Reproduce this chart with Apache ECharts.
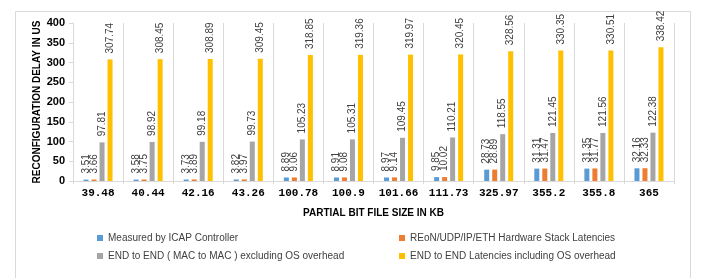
<!DOCTYPE html>
<html>
<head>
<meta charset="utf-8">
<script src="https://cdn.jsdelivr.net/npm/echarts@6/dist/echarts.min.js"></script>
<style>
  html, body { margin: 0; padding: 0; background: #fff; }
  #chart { width: 701px; height: 278px; }
</style>
</head>
<body>
<div id="chart"></div>
<script>
// partial bit file sizes (KB)
var categories = ['39.48', '40.44', '42.16', '43.26', '100.78', '100.9', '101.66', '111.73', '325.97', '355.2', '355.8', '365'];
var yTicks = [0, 50, 100, 150, 200, 250, 300, 350, 400];

var icapData = [3.51, 3.58, 3.73, 3.82, 8.89, 8.91, 8.97, 9.85, 28.73, 31.31, 31.35, 32.16];
var hwStackData = [3.66, 3.75, 3.89, 3.97, 9.06, 9.08, 9.14, 10.02, 28.89, 31.47, 31.77, 32.33];
var macToMacData = [97.81, 98.92, 99.18, 99.73, 105.23, 105.31, 109.45, 110.21, 118.55, 121.45, 121.56, 122.38];
var withOsData = [307.74, 308.45, 308.89, 309.45, 318.85, 319.36, 319.97, 320.45, 328.56, 330.35, 330.51, 338.42];

var names = [
    'Measured by ICAP Controller',
    'REoN/UDP/IP/ETH Hardware Stack Latencies',
    'END to END ( MAC to MAC ) excluding OS overhead',
    'END to END Latencies including OS overhead'
];
var colors = ['#5B9BD5', '#ED7D31', '#A5A5A5', '#FFC000'];
var allData = [icapData, hwStackData, macToMacData, withOsData];

var myChart = echarts.init(document.getElementById('chart'));

var series = allData.map(function (d, i) {
    return {
        name: names[i],
        type: 'bar',
        barWidth: 5,
        barGap: '60%',
        itemStyle: { color: colors[i] },
        label: {
            show: true,
            position: 'top',
            rotate: 90,
            align: 'left',
            verticalAlign: 'middle',
            distance: 6,
            fontSize: 10,
            color: '#404040',
            fontFamily: 'Liberation Sans, Arial, sans-serif',
            formatter: function (p) { return p.value.toFixed(2); }
        },
        data: d
    };
});

var legendText = { fontSize: 10, color: '#404040', fontFamily: 'Liberation Sans, Arial, sans-serif' };

var option = {
    animation: false,
    backgroundColor: '#fff',
    graphic: [{
        type: 'rect',
        left: 13,
        top: 9,
        shape: { width: 675, height: 300 },
        style: { fill: 'none', stroke: '#d9d9d9', lineWidth: 1 },
        silent: true
    }],
    grid: { left: 73, right: 27, top: 23, bottom: 97 },
    legend: [
        {
            data: [names[0], names[2]],
            orient: 'vertical',
            left: 92,
            top: 228,
            icon: 'rect',
            itemWidth: 6,
            itemHeight: 6,
            itemGap: 8,
            textStyle: legendText
        },
        {
            data: [names[1], names[3]],
            orient: 'vertical',
            left: 394,
            top: 228,
            icon: 'rect',
            itemWidth: 6,
            itemHeight: 6,
            itemGap: 8,
            textStyle: legendText
        }
    ],
    xAxis: {
        type: 'category',
        data: categories,
        name: 'PARTIAL BIT FILE SIZE IN KB',
        nameLocation: 'middle',
        nameGap: 27,
        nameTextStyle: { fontSize: 10, fontWeight: 'bold', color: '#000', fontFamily: 'Liberation Sans, Arial, sans-serif' },
        axisLine: { lineStyle: { color: '#d9d9d9' } },
        axisTick: { show: true, length: 3, lineStyle: { color: '#d9d9d9' } },
        splitLine: { show: true, lineStyle: { color: '#d9d9d9' } },
        axisLabel: {
            interval: 0,
            fontSize: 11,
            fontWeight: 'bold',
            color: '#000',
            fontFamily: 'Liberation Mono, monospace',
            margin: 7
        }
    },
    yAxis: {
        type: 'value',
        min: yTicks[0],
        max: yTicks[yTicks.length - 1],
        interval: 50,
        name: 'RECONFIGURATION DELAY IN US',
        nameLocation: 'middle',
        nameGap: 31,
        nameMoveOverlap: false,
        nameTextStyle: { fontSize: 10, fontWeight: 'bold', color: '#000', fontFamily: 'Liberation Sans, Arial, sans-serif' },
        axisLine: { show: true, lineStyle: { color: '#d9d9d9' } },
        axisTick: { show: true, length: 4, lineStyle: { color: '#d9d9d9' } },
        splitLine: { show: false },
        axisLabel: {
            fontSize: 11,
            fontWeight: 'bold',
            color: '#000',
            fontFamily: 'Liberation Sans, Arial, sans-serif',
            margin: 8
        }
    },
    series: series
};

option && myChart.setOption(option);
</script>
</body>
</html>
